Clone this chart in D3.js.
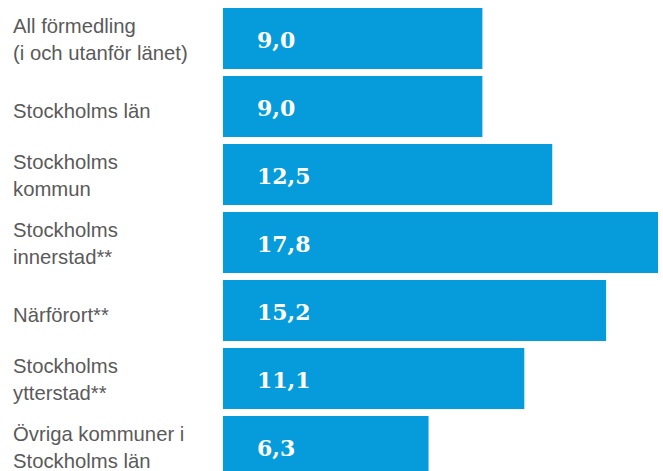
<!DOCTYPE html>
<html>
<head>
<meta charset="utf-8">
<script src="https://cdn.jsdelivr.net/npm/d3@7"></script>
<style>
  body { margin: 0; background: #fff; }
  svg { display: block; }
</style>
</head>
<body>
<svg width="663" height="471"></svg>
<script>
// categories (each entry = label lines) and values
var categories = [
  ["All förmedling", "(i och utanför länet)"],
  ["Stockholms län"],
  ["Stockholms", "kommun"],
  ["Stockholms", "innerstad**"],
  ["Närförort**"],
  ["Stockholms", "ytterstad**"],
  ["Övriga kommuner i", "Stockholms län"]
];
var values = [9.0, 9.0, 12.5, 17.8, 15.2, 11.1, 6.3];
var valueLabels = ["9,0", "9,0", "12,5", "17,8", "15,2", "11,1", "6,3"];

var svg = d3.select("svg");
var barLeft = 223;

var idx = d3.range(values.length);

var y = d3.scaleBand()
  .domain(idx)
  .range([8, 477])
  .paddingInner(7 / 68)
  .paddingOuter(0);

var x = d3.scaleLinear()
  .domain([-4, 17.8])
  .range([barLeft, 658]);

// bars
svg.selectAll("rect.bar")
  .data(idx).enter()
  .append("rect")
  .attr("class", "bar")
  .attr("x", barLeft)
  .attr("y", function(i){ return y(i); })
  .attr("width", function(i){ return x(values[i]) - barLeft; })
  .attr("height", y.bandwidth())
  .style("fill", "#069cdb");

// value labels inside bars
svg.selectAll("text.val")
  .data(idx).enter()
  .append("text")
  .attr("class", "val")
  .attr("x", barLeft + 34)
  .attr("y", function(i){ return y(i) + 40; })
  .text(function(i){ return valueLabels[i]; })
  .style("font-family", "'DejaVu Serif', serif")
  .style("font-weight", "bold")
  .style("font-size", "22px")
  .style("fill", "#fff");

// category labels on the left
var cat = svg.selectAll("text.cat")
  .data(idx).enter()
  .append("text")
  .attr("class", "cat")
  .attr("x", 13)
  .attr("y", function(i){
    return categories[i].length > 1 ? y(i) + 25 : y(i) + 42;
  })
  .style("font-family", "'Liberation Sans', Arial, sans-serif")
  .style("font-size", "20.3px")
  .style("fill", "#5a5a5a");

cat.selectAll("tspan")
  .data(function(i){ return categories[i]; })
  .enter()
  .append("tspan")
  .attr("x", 13)
  .attr("dy", function(d, j){ return j === 0 ? 0 : 27; })
  .text(function(d){ return d; });
</script>
</body>
</html>
